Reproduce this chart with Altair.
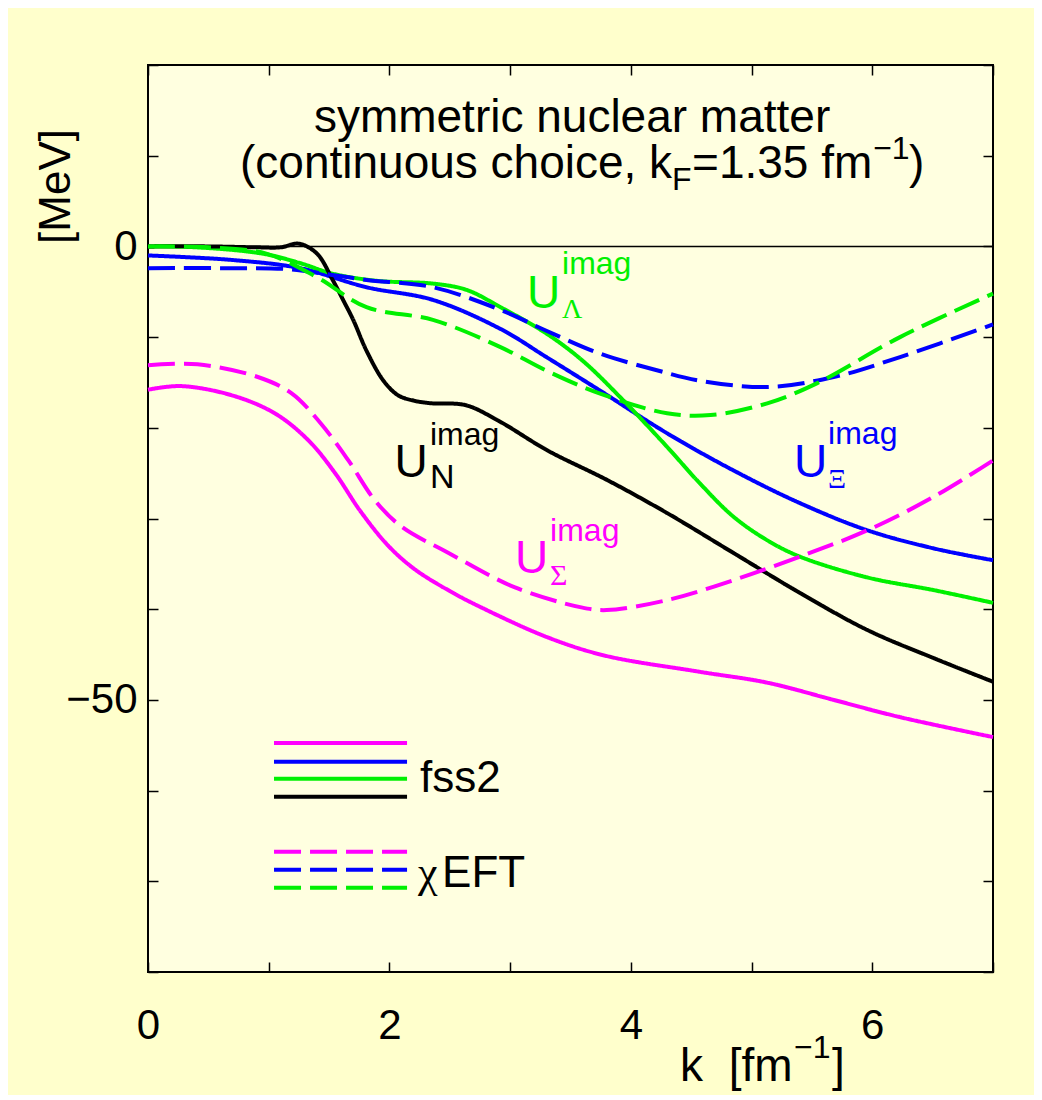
import altair as alt
import pandas as pd

# ---------------- data ----------------
K_N_FSS2 = [0, 0.5, 0.9, 1.1, 1.25, 1.4, 1.53, 1.62, 1.7, 1.81, 1.95, 2.07, 2.2, 2.35, 2.63, 2.9, 3.31, 3.81, 4.3, 4.85, 5.4, 5.96, 6.51, 7.0]
U_N_FSS2 = [0, 0, -0.1, -0.1, 0.3, -0.8, -3.7, -6.0, -8.1, -11.5, -14.8, -16.4, -17.0, -17.3, -17.5, -19.2, -22.5, -25.8, -29.4, -33.8, -38.2, -42.3, -45.4, -48.0]

K_L_FSS2 = [0, 0.4, 0.95, 1.25, 1.53, 1.9, 2.36, 2.64, 2.92, 3.3, 3.6, 3.91, 4.3, 4.57, 4.85, 5.13, 5.4, 5.96, 6.51, 7.0]
U_L_FSS2 = [0, -0.1, -0.8, -1.8, -3.0, -3.8, -4.1, -4.8, -6.7, -9.6, -12.6, -16.6, -22.1, -26.1, -29.8, -32.4, -34.2, -36.5, -37.9, -39.3]

K_X_FSS2 = [0, 0.7, 1.26, 1.81, 2.36, 2.92, 3.3, 3.745, 4.3, 4.85, 5.4, 5.96, 6.51, 7.0]
U_X_FSS2 = [-1.0, -1.5, -2.4, -4.5, -5.9, -9.1, -12.2, -15.9, -20.6, -24.7, -28.3, -31.3, -33.3, -34.6]

K_S_FSS2 = [0, 0.27, 0.69, 1.05, 1.33, 1.55, 1.76, 1.99, 2.21, 2.5, 2.76, 3.31, 3.78, 4.57, 5.13, 5.68, 6.23, 7.0]
U_S_FSS2 = [-15.8, -15.4, -16.4, -18.4, -21.4, -25.0, -29.2, -33.0, -35.6, -38.0, -39.8, -43.1, -45.1, -46.9, -48.1, -50.0, -51.9, -54.1]

K_L_EFT = [0, 0.5, 0.98, 1.4, 1.81, 2.36, 2.92, 3.3, 3.74, 4.3, 4.66, 5.13, 5.54, 6.23, 7.0]
U_L_EFT = [0, -0.1, -0.8, -3.4, -6.7, -8.1, -11.1, -13.7, -16.2, -18.4, -18.6, -17.3, -15.1, -10.0, -5.2]

K_X_EFT = [0, 0.6, 1.15, 1.5, 1.81, 2.36, 2.92, 3.3, 3.74, 4.2, 4.57, 5.13, 5.68, 6.23, 7.0]
U_X_EFT = [-2.4, -2.4, -2.5, -3.1, -3.7, -4.5, -7.0, -9.3, -11.8, -13.6, -14.8, -15.5, -14.4, -12.2, -8.6]

K_S_EFT = [0, 0.41, 0.91, 1.19, 1.43, 1.66, 1.88, 2.1, 2.49, 3.04, 3.59, 3.8, 4.3, 4.85, 5.4, 5.96, 6.51, 7.0]
U_S_EFT = [-13.1, -13.0, -14.4, -16.2, -19.5, -23.6, -28.0, -30.9, -33.8, -37.6, -39.8, -40.1, -39.0, -36.8, -34.2, -31.3, -27.6, -23.6]

GREEN = "#00F000"
SERIES = [
    ("Σ fss2", "fss2", K_S_FSS2, U_S_FSS2),
    ("Ξ fss2", "fss2", K_X_FSS2, U_X_FSS2),
    ("Λ fss2", "fss2", K_L_FSS2, U_L_FSS2),
    ("N fss2", "fss2", K_N_FSS2, U_N_FSS2),
    ("Σ χEFT", "χEFT", K_S_EFT, U_S_EFT),
    ("Ξ χEFT", "χEFT", K_X_EFT, U_X_EFT),
    ("Λ χEFT", "χEFT", K_L_EFT, U_L_EFT),
]
SERIES_NAMES = [s[0] for s in SERIES]
SERIES_COLORS = ["#FF00FF", "#0000FF", GREEN, "#000000", "#FF00FF", "#0000FF", GREEN]
MODELS = ["fss2", "χEFT"]
DASHES = [[1, 0], [27, 9]]

# legend sample lines
LEG_SERIES = ["Σ fss2", "Ξ fss2", "Λ fss2", "N fss2", "Σ χEFT", "Ξ χEFT", "Λ χEFT"]
LEG_MODEL = ["fss2", "fss2", "fss2", "fss2", "χEFT", "χEFT", "χEFT"]
LEG_Y = [-54.74, -56.83, -58.70, -60.68, -66.74, -68.72, -70.70]
LEG_X1 = 1.044
LEG_X2 = 2.146

# text annotations: text, k, U, size, color, font, align, angle
SANS = "Liberation Sans"
SERIF = "Liberation Serif"
ANN_TEXT = ["symmetric nuclear matter", "(continuous choice, k", "F", "=1.35 fm", "−1", ")",
            "U", "imag", "N",
            "U", "imag", "Λ",
            "U", "imag", "Ξ",
            "U", "imag", "Σ",
            "fss2", "χ", "EFT",
            "k \u00a0[fm", "−1", "]",
            "[MeV]"]
ANN_K = [3.513, 0.762, 4.341, 4.507, 6.007, 6.305,
         2.042, 2.336, 2.336,
         3.14, 3.43, 3.43,
         5.352, 5.634, 5.634,
         3.041, 3.331, 3.331,
         2.254, 2.237, 2.436,
         4.408, 5.352, 5.667,
         -0.754]
ANN_U = [12.56, 7.49, 6.17, 7.49, 9.69, 7.49,
         -25.44, -21.92, -26.65,
         -6.83, -3.08, -7.93,
         -25.44, -21.81, -26.65,
         -36.01, -32.49, -37.33,
         -60.13, -70.6, -70.6,
         -92.07, -89.43, -92.07,
         6.61]
ANN_SIZE = [46, 46, 32, 46, 32, 46,
            46, 32, 34,
            46, 32, 28,
            46, 32, 28,
            46, 32, 30,
            44, 44, 44,
            46, 32, 46,
            44]
ANN_COLOR = ["black"] * 6 + ["black"] * 3 + [GREEN] * 3 + ["#0000FF"] * 3 + ["#FF00FF"] * 3 + ["black"] * 3 + ["black"] * 3 + ["black"]
ANN_FONT = [SANS] * 6 + [SANS, SANS, SANS] + [SANS, SANS, SERIF] + [SANS, SANS, SERIF] + [SANS, SANS, SERIF] + [SANS, SERIF, SANS] + [SANS] * 3 + [SANS]
ANN_ALIGN = ["center"] + ["left"] * 23 + ["center"]
ANN_ANGLE = [0] * 24 + [270]

# ---------------- build ----------------
rows = []
for name, model, ks, us in SERIES:
    for k, u in zip(ks, us):
        rows.append({"series": name, "model": model, "k": k, "U": u})
df = pd.DataFrame(rows)

leg_df = pd.DataFrame({"series": LEG_SERIES, "model": LEG_MODEL, "y": LEG_Y,
                       "x1": [LEG_X1] * len(LEG_Y), "x2": [LEG_X2] * len(LEG_Y)})

ann_df = pd.DataFrame({"text": ANN_TEXT, "k": ANN_K, "U": ANN_U, "size": ANN_SIZE,
                       "color": ANN_COLOR, "font": ANN_FONT, "align": ANN_ALIGN, "angle": ANN_ANGLE})

x_scale = alt.Scale(domain=[0, 7], nice=False, zero=False)
y_scale = alt.Scale(domain=[-80, 20], nice=False, zero=False)
color_scale = alt.Scale(domain=SERIES_NAMES, range=SERIES_COLORS)
dash_scale = alt.Scale(domain=MODELS, range=DASHES)

axis_common = dict(domain=False, grid=False, tickSize=10, tickWidth=1.5, tickColor="black",
                   offset=-10, title=None, labelOverlap=False)

axis_bottom = alt.Axis(orient="bottom", values=list(range(8)),
                       labelExpr="(datum.value % 2 == 0 && datum.value < 7) ? datum.label : ''",
                       labelFont=SANS, labelFontSize=42, labelColor="black", labelPadding=33,
                       labelFlush=False, **axis_common)
axis_left = alt.Axis(orient="left", values=list(range(-80, 21, 10)),
                     labelExpr="(datum.value == 0 || datum.value == -50) ? datum.label : ''",
                     labelFont=SANS, labelFontSize=42, labelColor="black", labelPadding=11,
                     labelFlush=False, **axis_common)
axis_top = alt.Axis(orient="top", values=list(range(8)), labels=False, **axis_common)
axis_right = alt.Axis(orient="right", values=list(range(-80, 21, 10)), labels=False, **axis_common)

zero_line = alt.Chart(pd.DataFrame({"U": [0]})).mark_rule(color="black", strokeWidth=1.5).encode(
    y=alt.Y("U:Q", scale=y_scale, axis=None)
)

lines = alt.Chart(df).mark_line(strokeWidth=4, interpolate="catmull-rom").encode(
    x=alt.X("k:Q", scale=x_scale, axis=axis_bottom),
    y=alt.Y("U:Q", scale=y_scale, axis=axis_left),
    color=alt.Color("series:N", scale=color_scale, legend=None),
    strokeDash=alt.StrokeDash("model:N", scale=dash_scale, legend=None),
    detail="series:N",
)

legend_lines = alt.Chart(leg_df).mark_rule(strokeWidth=4).encode(
    x=alt.X("x1:Q", scale=x_scale, axis=axis_top),
    x2="x2:Q",
    y=alt.Y("y:Q", scale=y_scale, axis=axis_right),
    color=alt.Color("series:N", scale=color_scale, legend=None),
    strokeDash=alt.StrokeDash("model:N", scale=dash_scale, legend=None),
)

text_layers = []
for (color, font, size, align, angle), sub in ann_df.groupby(["color", "font", "size", "align", "angle"]):
    mk = dict(font=font, fontSize=int(size), color=color, align=align)
    if angle:
        mk.update(angle=int(angle), baseline="middle")
    else:
        mk.update(baseline="alphabetic")
    text_layers.append(
        alt.Chart(sub).mark_text(**mk).encode(
            x=alt.X("k:Q", scale=x_scale, axis=None),
            y=alt.Y("U:Q", scale=y_scale, axis=None),
            text="text:N",
        )
    )

chart = alt.layer(zero_line, lines, legend_lines, *text_layers).resolve_axis(
    x="independent", y="independent"
).properties(
    width=845, height=907,
    autosize=alt.AutoSizeParams(type="none"),
    padding={"left": 140, "top": 57, "right": 41, "bottom": 123},
    background="#FFFFCC",
).configure_view(
    fill="#FFFFE0", stroke="black", strokeWidth=2
)

chart.save("out.html", embed_options={"renderer": "svg", "actions": False})
